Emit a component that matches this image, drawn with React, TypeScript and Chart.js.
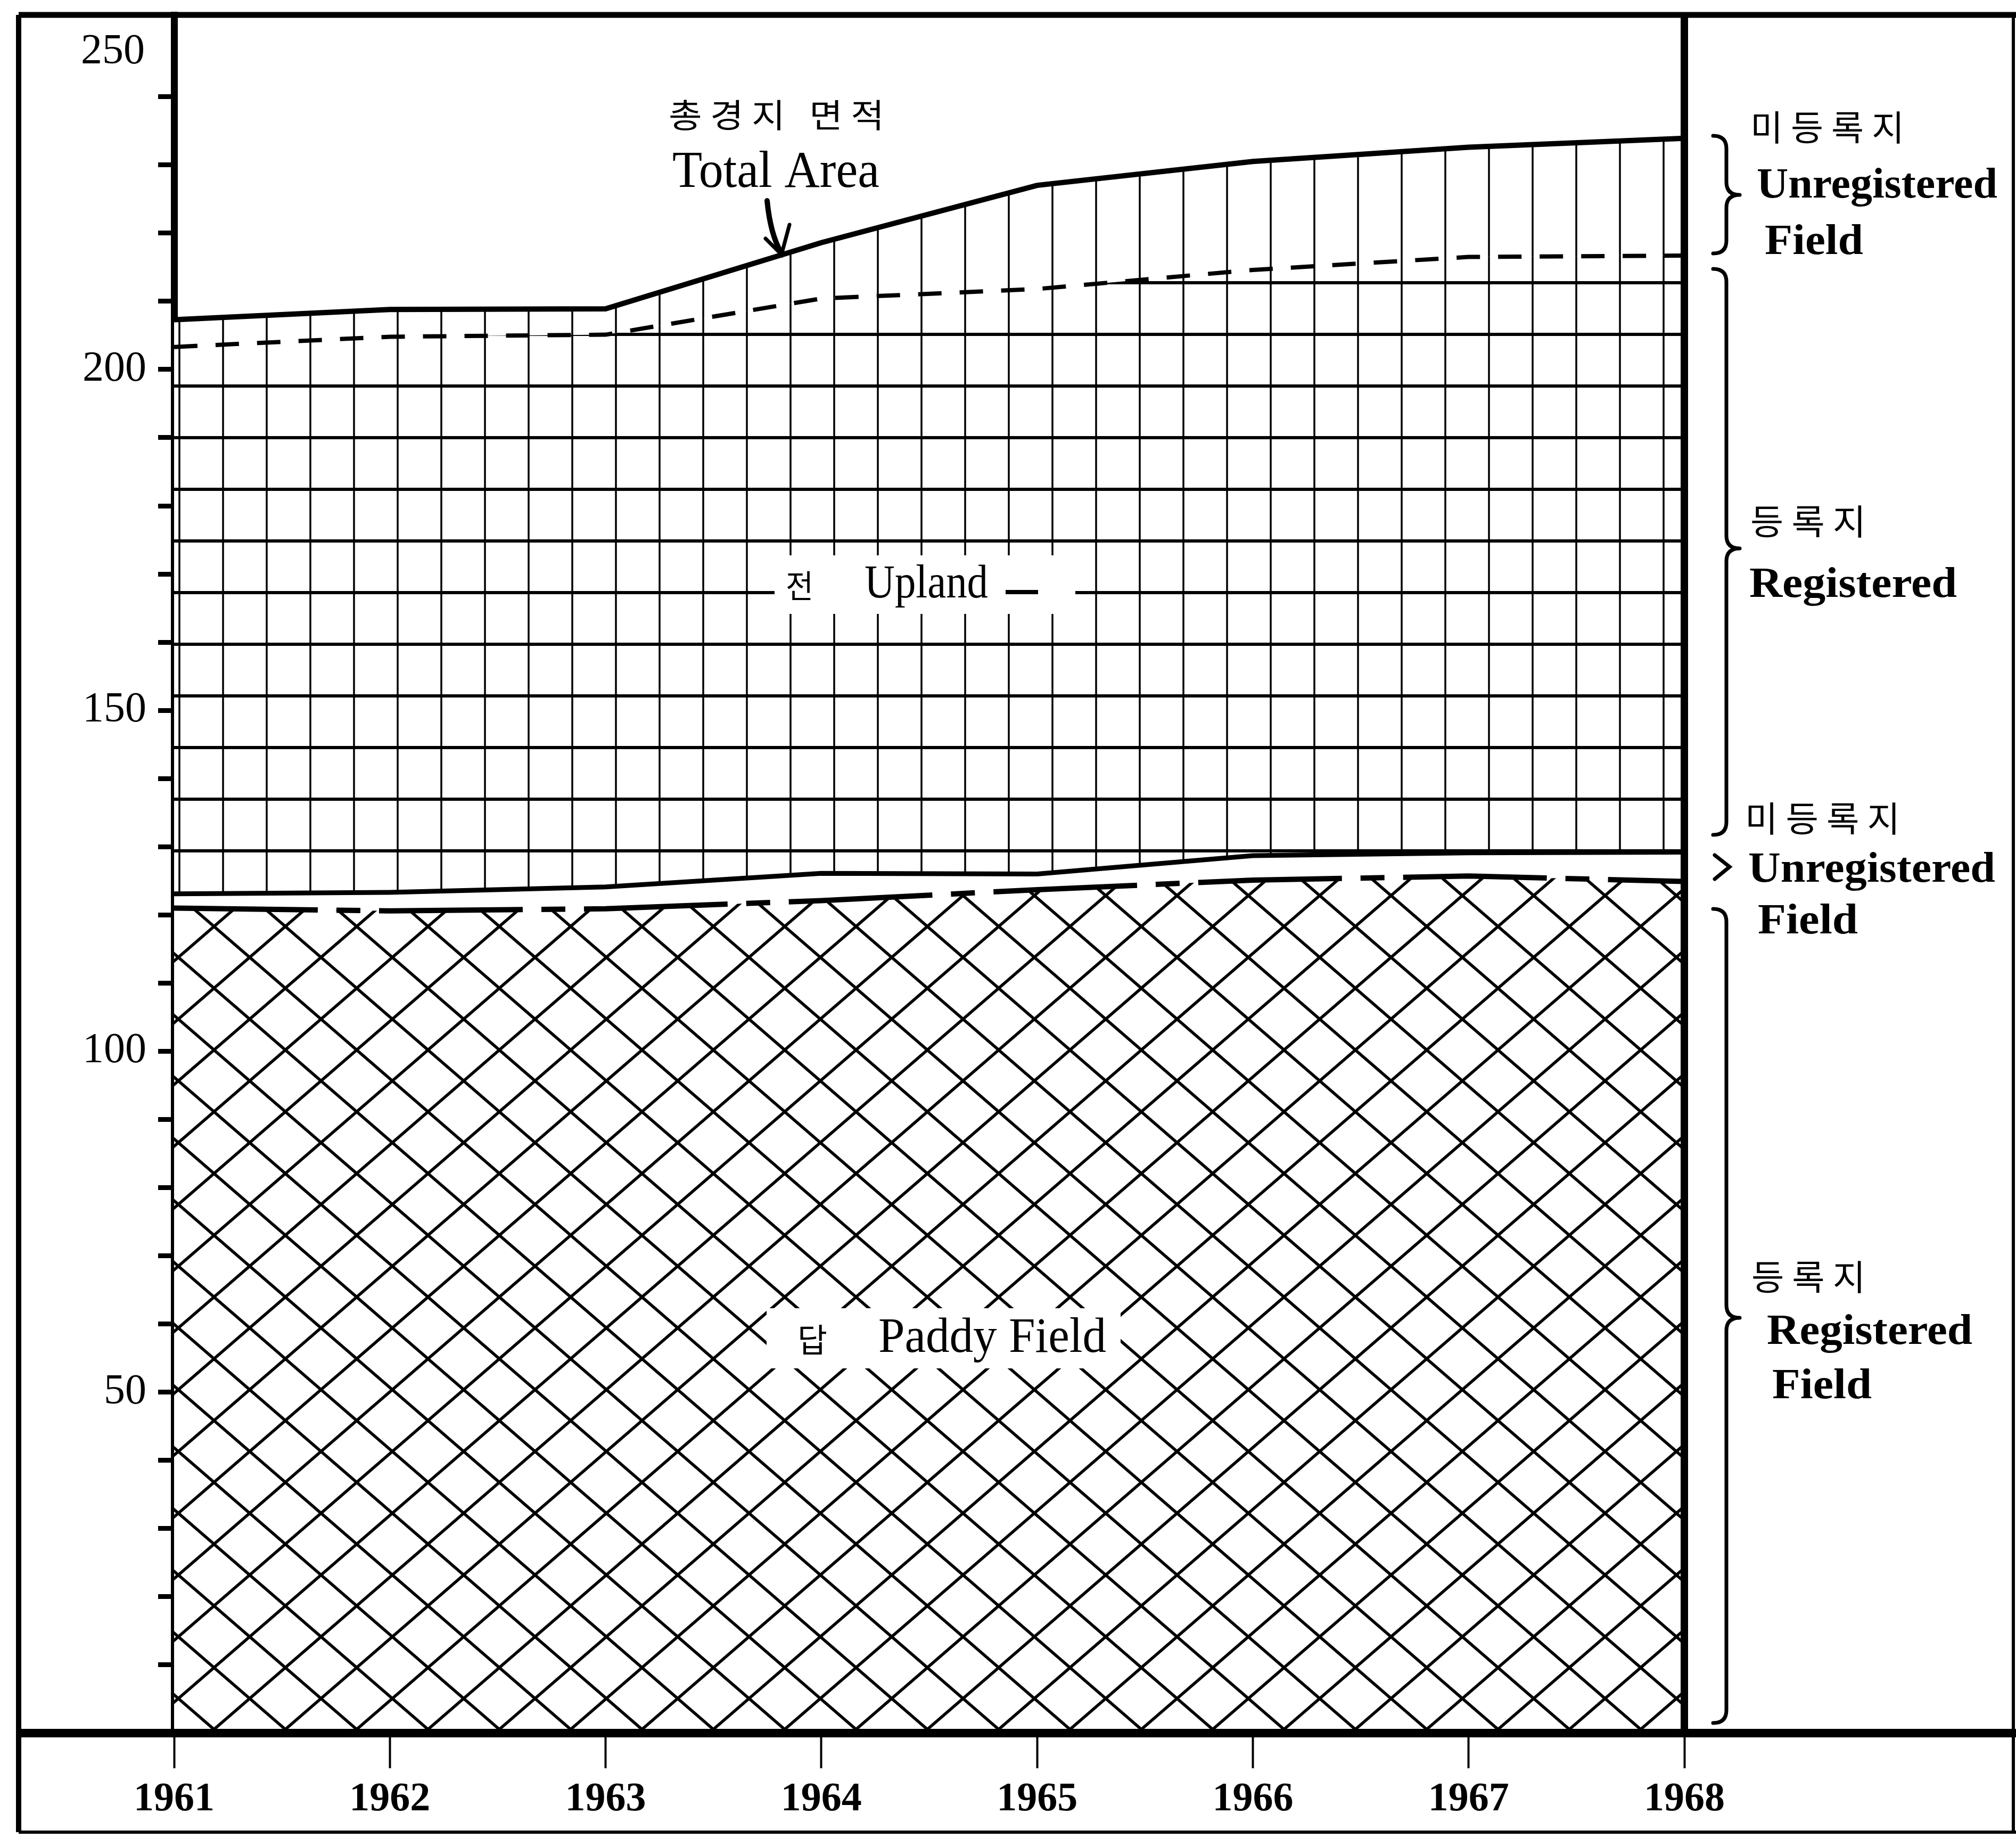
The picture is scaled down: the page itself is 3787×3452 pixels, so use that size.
import React, { useEffect, useRef } from 'react';
import { Chart, registerables } from 'chart.js';

Chart.register(...registerables);

const W = 3787;
const H = 3452;

// ---- data (thousand ha) ----
const years = ['1961', '1962', '1963', '1964', '1965', '1966', '1967', '1968'];
const paddyRegistered = [121.0, 120.6, 120.9, 122.1, 123.7, 125.1, 125.7, 124.9];
const paddyTotal = [123.1, 123.3, 124.1, 126.1, 126.0, 128.7, 129.1, 129.2];
const uplandRegisteredTop = [203.3, 204.8, 205.1, 210.4, 211.8, 214.6, 216.5, 216.7];
const totalArea = [207.3, 208.8, 208.9, 218.6, 227.0, 230.5, 232.6, 233.9];
const yLabelValues = [50, 100, 150, 200];
const yTopLabel = 250;

const SERIF = '"Liberation Serif", "DejaVu Serif", serif';
const KR = '"Noto Sans CJK KR", "Noto Sans CJK SC", sans-serif';

function fitText(
  ctx: CanvasRenderingContext2D,
  text: string,
  x: number,
  y: number,
  width: number,
  font: string,
  align: 'left' | 'center' | 'right' = 'left'
) {
  ctx.save();
  ctx.font = font;
  ctx.textBaseline = 'middle';
  ctx.textAlign = 'left';
  ctx.fillStyle = '#000';
  const m = ctx.measureText(text).width || 1;
  const sx = width / m;
  let x0 = x;
  if (align === 'center') x0 = x - width / 2;
  if (align === 'right') x0 = x - width;
  ctx.translate(x0, y);
  ctx.scale(sx, 1);
  ctx.fillText(text, 0, 0);
  ctx.restore();
}

function brace(ctx: CanvasRenderingContext2D, top: number, bottom: number, mid: number) {
  const x0 = 3218;
  const x1 = 3243;
  const x2 = 3268;
  const r = 24;
  ctx.save();
  ctx.strokeStyle = '#000';
  ctx.lineWidth = 7;
  ctx.lineJoin = 'round';
  ctx.lineCap = 'round';
  ctx.beginPath();
  ctx.moveTo(x0, top);
  ctx.quadraticCurveTo(x1, top, x1, top + r);
  ctx.lineTo(x1, mid - r);
  ctx.quadraticCurveTo(x1, mid, x2, mid);
  ctx.quadraticCurveTo(x1, mid, x1, mid + r);
  ctx.lineTo(x1, bottom - r);
  ctx.quadraticCurveTo(x1, bottom, x0, bottom);
  ctx.stroke();
  ctx.restore();
}

const decorPlugin = {
  id: 'decor',
  beforeDraw(chart: any) {
    const ctx: CanvasRenderingContext2D = chart.ctx;
    ctx.save();
    ctx.fillStyle = '#fff';
    ctx.fillRect(0, 0, chart.width, chart.height);
    ctx.restore();
  },
  afterDraw(chart: any) {
    const ctx: CanvasRenderingContext2D = chart.ctx;
    const area = chart.chartArea;
    const yScale = chart.scales.y;
    ctx.save();
    ctx.strokeStyle = '#000';
    ctx.fillStyle = '#000';
    ctx.lineCap = 'butt';

    // outer frame
    ctx.lineWidth = 11;
    ctx.beginPath();
    ctx.moveTo(35, area.top);
    ctx.lineTo(W, area.top);
    ctx.stroke();
    ctx.lineWidth = 10;
    ctx.beginPath();
    ctx.moveTo(35, area.top);
    ctx.lineTo(35, 3441);
    ctx.stroke();
    ctx.lineWidth = 6;
    ctx.beginPath();
    ctx.moveTo(35, 3441);
    ctx.lineTo(W, 3441);
    ctx.stroke();
    ctx.beginPath();
    ctx.moveTo(3782, area.top);
    ctx.lineTo(3782, 3441);
    ctx.stroke();

    // heavy base line across the whole frame
    ctx.lineWidth = 16;
    ctx.beginPath();
    ctx.moveTo(35, area.bottom);
    ctx.lineTo(W, area.bottom);
    ctx.stroke();

    // right axis line
    ctx.lineWidth = 14;
    ctx.beginPath();
    ctx.moveTo(area.right, area.top);
    ctx.lineTo(area.right, area.bottom);
    ctx.stroke();

    // 250 label (set lower than its tick, as in the original)
    ctx.font = `80px ${SERIF}`;
    ctx.textAlign = 'right';
    ctx.textBaseline = 'middle';
    ctx.fillText(String(yTopLabel), 272, yScale.getPixelForValue(yTopLabel) + 44);

    // white label boxes inside the hatching
    ctx.fillStyle = '#fff';
    ctx.fillRect(1455, 1043, 565, 110);
    ctx.fillRect(1440, 2457, 665, 113);
    ctx.fillStyle = '#000';

    fitText(ctx, '전', 1476, 1100, 52, `60px ${KR}`);
    fitText(ctx, 'Upland', 1624, 1099, 232, `88px ${SERIF}`);
    ctx.lineWidth = 8;
    ctx.beginPath();
    ctx.moveTo(1889, 1112);
    ctx.lineTo(1950, 1112);
    ctx.stroke();

    fitText(ctx, '답', 1498, 2516, 56, `62px ${KR}`);
    fitText(ctx, 'Paddy Field', 1650, 2514, 428, `94px ${SERIF}`);

    // header: total area
    fitText(ctx, '총 경 지   면 적', 1256, 216, 405, `62px ${KR}`);
    fitText(ctx, 'Total Area', 1263, 325, 389, `98px ${SERIF}`);

    // arrow
    ctx.lineWidth = 10;
    ctx.lineCap = 'round';
    ctx.beginPath();
    ctx.moveTo(1441, 377);
    ctx.quadraticCurveTo(1447, 440, 1468, 476);
    ctx.stroke();
    ctx.lineWidth = 7;
    ctx.beginPath();
    ctx.moveTo(1438, 448);
    ctx.lineTo(1468, 478);
    ctx.lineTo(1483, 422);
    ctx.stroke();

    // braces on the right
    brace(ctx, 255, 476, 366);
    brace(ctx, 505, 1568, 1030);
    brace(ctx, 1707, 3236, 2475);
    ctx.lineWidth = 7;
    ctx.lineCap = 'round';
    ctx.beginPath();
    ctx.moveTo(3221, 1606);
    ctx.lineTo(3249, 1628);
    ctx.lineTo(3221, 1651);
    ctx.stroke();

    const bold = `bold 80px ${SERIF}`;
    fitText(ctx, '미 등 록 지', 3288, 239, 289, `66px ${KR}`);
    fitText(ctx, 'Unregistered', 3300, 350, 452, bold);
    fitText(ctx, 'Field', 3315, 456, 185, bold);
    fitText(ctx, '등 록 지', 3288, 979, 217, `66px ${KR}`);
    fitText(ctx, 'Registered', 3286, 1100, 390, bold);
    fitText(ctx, '미 등 록 지', 3278, 1537, 291, `66px ${KR}`);
    fitText(ctx, 'Unregistered', 3284, 1635, 464, bold);
    fitText(ctx, 'Field', 3302, 1732, 188, bold);
    fitText(ctx, '등 록 지', 3290, 2398, 214, `66px ${KR}`);
    fitText(ctx, 'Registered', 3319, 2503, 386, bold);
    fitText(ctx, 'Field', 3329, 2605, 187, bold);

    ctx.restore();
  },
};

export default function App() {
  const ref = useRef<HTMLCanvasElement>(null);

  useEffect(() => {
    const canvas = ref.current as HTMLCanvasElement;
    const ctx = canvas.getContext('2d') as CanvasRenderingContext2D;

    const makePattern = (w: number, h: number, draw: (g: CanvasRenderingContext2D) => void) => {
      const c = document.createElement('canvas');
      c.width = w;
      c.height = h;
      const g = c.getContext('2d') as CanvasRenderingContext2D;
      g.fillStyle = '#fff';
      g.fillRect(0, 0, w, h);
      g.strokeStyle = '#000';
      g.lineCap = 'butt';
      draw(g);
      return ctx.createPattern(c, 'repeat') as CanvasPattern;
    };

    // diagonal cross-hatching for registered paddy
    const CW = 134;
    const CH = 116;
    const crossPattern = makePattern(CW, CH, (g) => {
      g.lineWidth = 5.5;
      for (let k = -1; k <= 1; k++) {
        g.beginPath();
        g.moveTo(k * CW, 0);
        g.lineTo((k + 1) * CW, CH);
        g.stroke();
        g.beginPath();
        g.moveTo((k + 1) * CW, 0);
        g.lineTo(k * CW, CH);
        g.stroke();
      }
    });

    // grid for registered upland, vertical lines only for unregistered upland
    const GW = 82;
    const GH = 97;
    const gridPattern = makePattern(GW, GH, (g) => {
      g.lineWidth = 3.5;
      g.beginPath();
      g.moveTo(9, 0);
      g.lineTo(9, GH);
      g.stroke();
      g.lineWidth = 6;
      g.beginPath();
      g.moveTo(0, 46);
      g.lineTo(GW, 46);
      g.stroke();
    });
    const vertPattern = makePattern(GW, GH, (g) => {
      g.lineWidth = 3.5;
      g.beginPath();
      g.moveTo(9, 0);
      g.lineTo(9, GH);
      g.stroke();
    });

    const common = { pointRadius: 0, pointHoverRadius: 0, tension: 0, borderColor: '#000' };

    const chart = new Chart(canvas, {
      type: 'line',
      data: {
        labels: years,
        datasets: [
          {
            ...common,
            label: 'Paddy registered',
            data: paddyRegistered,
            borderWidth: 10,
            borderDash: [270, 35, 45, 35],
            backgroundColor: crossPattern,
            fill: 'origin',
          },
          {
            ...common,
            label: 'Paddy total',
            data: paddyTotal,
            borderWidth: 9,
            backgroundColor: 'rgba(255,255,255,1)',
            fill: '-1',
          },
          {
            ...common,
            label: 'Upland registered',
            data: uplandRegisteredTop,
            borderWidth: 8,
            borderDash: [44, 34],
            backgroundColor: gridPattern,
            fill: '-1',
          },
          {
            ...common,
            label: 'Total area',
            data: totalArea,
            borderWidth: 10,
            backgroundColor: vertPattern,
            fill: '-1',
          },
        ],
      },
      options: {
        responsive: false,
        maintainAspectRatio: false,
        devicePixelRatio: 1,
        animation: false,
        events: [],
        layout: { padding: { left: 0, right: W - 3164, top: 28, bottom: 0 } },
        plugins: {
          legend: { display: false },
          tooltip: { enabled: false },
        },
        scales: {
          x: {
            type: 'category',
            offset: false,
            afterFit: (s: any) => {
              s.height = H - 3255;
              s.paddingLeft = 0;
              s.paddingRight = 0;
              s.paddingTop = 0;
              s.paddingBottom = 0;
            },
            border: { display: false },
            grid: {
              offset: false,
              drawOnChartArea: false,
              drawTicks: true,
              tickLength: 66,
              tickWidth: 4,
              tickColor: '#000',
            },
            ticks: {
              color: '#000',
              autoSkip: false,
              maxRotation: 0,
              padding: 14,
              font: { family: SERIF, size: 76, weight: 'bold' },
            },
          },
          y: {
            type: 'linear',
            min: 0,
            max: 252,
            bounds: 'data',
            afterFit: (s: any) => {
              s.width = 327;
              s.paddingLeft = 0;
              s.paddingRight = 0;
              s.paddingTop = 0;
              s.paddingBottom = 0;
            },
            border: { display: true, color: '#000', width: 13 },
            grid: {
              drawOnChartArea: false,
              drawTicks: true,
              tickLength: 30,
              tickWidth: 9,
              tickColor: (c: any) =>
                c.tick && (c.tick.value <= 0 || c.tick.value >= 250) ? 'rgba(0,0,0,0)' : '#000',
            },
            ticks: {
              stepSize: 10,
              includeBounds: false,
              autoSkip: false,
              color: '#000',
              padding: 22,
              font: { family: SERIF, size: 80 },
              callback: (v: any) => (yLabelValues.includes(Number(v)) ? String(v) : ''),
            },
          },
        },
      },
      plugins: [decorPlugin],
    } as any);

    return () => {
      chart.destroy();
    };
  }, []);

  return (
    <div style={{ position: 'absolute', left: 0, top: 0, width: W, height: H, background: '#fff' }}>
      <canvas ref={ref} width={W} height={H} style={{ display: 'block', width: W, height: H }} />
    </div>
  );
}
